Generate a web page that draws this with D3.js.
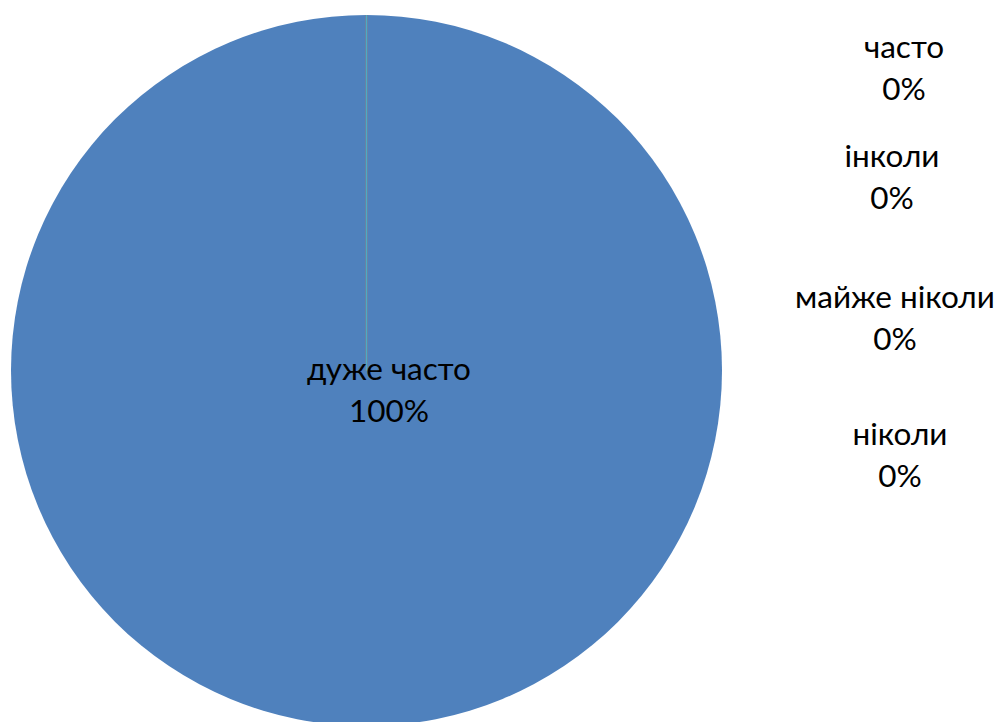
<!DOCTYPE html>
<html>
<head>
<meta charset="utf-8">
<script src="https://cdn.jsdelivr.net/npm/d3@7"></script>
<style>
  body { margin: 0; background: #fff; }
  text { font-family: Lato, "Open Sans", sans-serif; font-size: 31.5px; fill: #000; }
</style>
</head>
<body>
<svg id="chart" width="998" height="722"></svg>
<script>
// categories and shares (%)
var categories = ["дуже часто", "часто", "інколи", "майже ніколи", "ніколи"]
var values = [100, 0, 0, 0, 0]
var colors = ["#4F81BD", "#C0504D", "#9BBB59", "#8064A2", "#4BACC6"]

// where each data label sits (label centre x, first baseline y)
var labelPos = [[389, 380], [904, 58], [892, 167], [895, 308], [900, 445]]

var svg = d3.select("#chart"),
    cx = 366.5, cy = 370.5, radius = 355.5

var pie = d3.pie().sort(null).value(function(d) { return d.value })
var arc = d3.arc().innerRadius(0).outerRadius(radius)

var data = categories.map(function(c, i) { return { name: c, value: values[i], color: colors[i] } })
var total = d3.sum(values)

var g = svg.append("g").attr("transform", "translate(" + cx + "," + cy + ")")

g.selectAll("path")
    .data(pie(data))
    .enter().append("path")
      .attr("d", arc)
      .attr("fill", function(d) { return d.data.color })
      .attr("stroke", function(d) { return d.data.value > 0 ? "none" : d.data.color })
      .attr("stroke-width", 1.3)

var labels = svg.append("g").selectAll("text")
    .data(data)
    .enter().append("text")
      .attr("text-anchor", "middle")
      .attr("x", function(d, i) { return labelPos[i][0] })
      .attr("y", function(d, i) { return labelPos[i][1] })

labels.append("tspan")
    .text(function(d) { return d.name })
labels.append("tspan")
    .attr("x", function(d, i) { return labelPos[i][0] })
    .attr("dy", 42)
    .text(function(d) { return d3.format(".0%")(d.value / total) })
</script>
</body>
</html>
